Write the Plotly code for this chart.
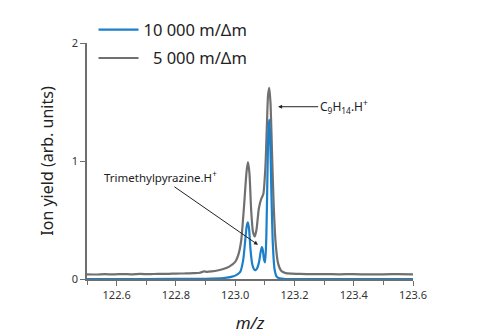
import plotly.graph_objects as go

# Spectrum around m/z 123: two instrument resolutions
mz_5000 = [122.50, 122.53, 122.56, 122.59, 122.62, 122.65, 122.68, 122.71, 122.74,
           122.77, 122.80, 122.83, 122.86, 122.88, 122.895, 122.905, 122.92, 122.94,
           122.96, 122.98, 123.00, 123.01, 123.02, 123.03, 123.038, 123.043, 123.048,
           123.054, 123.06, 123.066, 123.072, 123.08, 123.088, 123.095, 123.102,
           123.107, 123.111, 123.115, 123.119, 123.124, 123.13, 123.137, 123.145,
           123.155, 123.17, 123.19, 123.22, 123.26, 123.30, 123.35, 123.40, 123.45,
           123.50, 123.55, 123.60]
yield_5000 = [0.040, 0.038, 0.041, 0.039, 0.042, 0.040, 0.043, 0.041, 0.044,
              0.043, 0.046, 0.047, 0.050, 0.053, 0.064, 0.060, 0.064, 0.072,
              0.085, 0.105, 0.145, 0.200, 0.320, 0.620, 0.900, 0.990, 0.900,
              0.580, 0.400, 0.360, 0.420, 0.600, 0.680, 0.720, 0.950,
              1.300, 1.560, 1.620, 1.500, 1.100, 0.620, 0.290, 0.130,
              0.070, 0.050, 0.045, 0.043, 0.041, 0.042, 0.040, 0.041, 0.039,
              0.040, 0.041, 0.040]

mz_10000 = [122.50, 122.70, 122.90, 122.96, 122.99, 123.005, 123.017, 123.027,
            123.034, 123.039, 123.043, 123.047, 123.052, 123.058, 123.064, 123.069,
            123.075, 123.081, 123.086, 123.090, 123.093, 123.097, 123.101, 123.105,
            123.109, 123.112, 123.115, 123.118, 123.122, 123.127, 123.133, 123.14,
            123.15, 123.17, 123.30, 123.45, 123.60]
yield_10000 = [0.000, 0.000, 0.002, 0.008, 0.020, 0.035, 0.060, 0.160,
               0.330, 0.450, 0.480, 0.420, 0.240, 0.120, 0.080, 0.075,
               0.095, 0.150, 0.230, 0.270, 0.250, 0.170, 0.140, 0.350,
               0.900, 1.250, 1.350, 1.200, 0.750, 0.300, 0.080, 0.020,
               0.005, 0.000, 0.000, 0.000, 0.000]

x_ticks = [122.6, 122.8, 123.0, 123.2, 123.4, 123.6]
y_ticks = [0, 1, 2]

blue = "#1b7fc9"
grey = "#707070"
axis_grey = "#6e6e6e"
font_family = "Noto Sans, Lato, sans-serif"

fig = go.Figure()
# grey curve first so the blue one is drawn on top; legend lists blue first
fig.add_trace(go.Scatter(
    x=mz_5000, y=yield_5000, mode="lines", name="\u20075 000 m/\u0394m",
    legendgroup="r5000", legendrank=2,
    line=dict(color=grey, width=2.2, shape="spline", smoothing=0.6),
))
fig.add_trace(go.Scatter(
    x=mz_10000, y=yield_10000, mode="lines", name="10 000 m/\u0394m",
    legendgroup="r10000", legendrank=1,
    line=dict(color=blue, width=2.2, shape="spline", smoothing=0.6),
))

fig.add_annotation(
    x=123.145, y=1.46, xref="x", yref="y",
    text="C<sub>9</sub>H<sub>14</sub>.H<sup>+</sup>",
    showarrow=True, ax=40, ay=0, xanchor="left",
    arrowhead=2, arrowsize=0.8, arrowwidth=1, arrowcolor="#222",
    font=dict(size=12, color="#222", family=font_family),
)
fig.add_annotation(
    x=123.077, y=0.29, xref="x", yref="y",
    text="Trimethylpyrazine.H<sup>+</sup>",
    showarrow=True, ax=-98, ay=-68,
    arrowhead=2, arrowsize=0.8, arrowwidth=1, arrowcolor="#222",
    font=dict(size=11.5, color="#222", family=font_family),
)

fig.update_layout(
    width=480, height=336,
    margin=dict(l=87, r=67, t=38, b=57),
    paper_bgcolor="white", plot_bgcolor="white",
    font=dict(family=font_family, color="#222"),
    showlegend=True,
    legend=dict(
        x=0.02, y=1.13, xanchor="left", yanchor="top",
        bgcolor="rgba(0,0,0,0)", font=dict(size=16.5, color="#222"),
        itemwidth=40, traceorder="grouped", tracegroupgap=4,
    ),
    xaxis=dict(
        range=[122.5, 123.6], tickvals=x_ticks, tickformat=".1f",
        ticks="outside", ticklen=5, tickcolor=axis_grey, tickwidth=1,
        minor=dict(dtick=0.1, tick0=122.5, ticks="outside", ticklen=4,
                   tickcolor=axis_grey),
        showline=True, linecolor=axis_grey, linewidth=1.5,
        showgrid=False, zeroline=False, automargin=False,
        tickfont=dict(size=11, color="#333"),
        title=dict(text="<i>m/z</i>", font=dict(size=17, color="#222"), standoff=16),
    ),
    yaxis=dict(
        range=[0, 2], tickvals=y_ticks,
        ticks="outside", ticklen=5, tickcolor=axis_grey, tickwidth=1,
        showline=True, linecolor=axis_grey, linewidth=1.5,
        showgrid=False, zeroline=False, automargin=False,
        tickfont=dict(size=11, color="#333"),
        title=dict(text="Ion yield (arb. units)", font=dict(size=16, color="#222"), standoff=14),
    ),
)

fig.write_html("out.html")
